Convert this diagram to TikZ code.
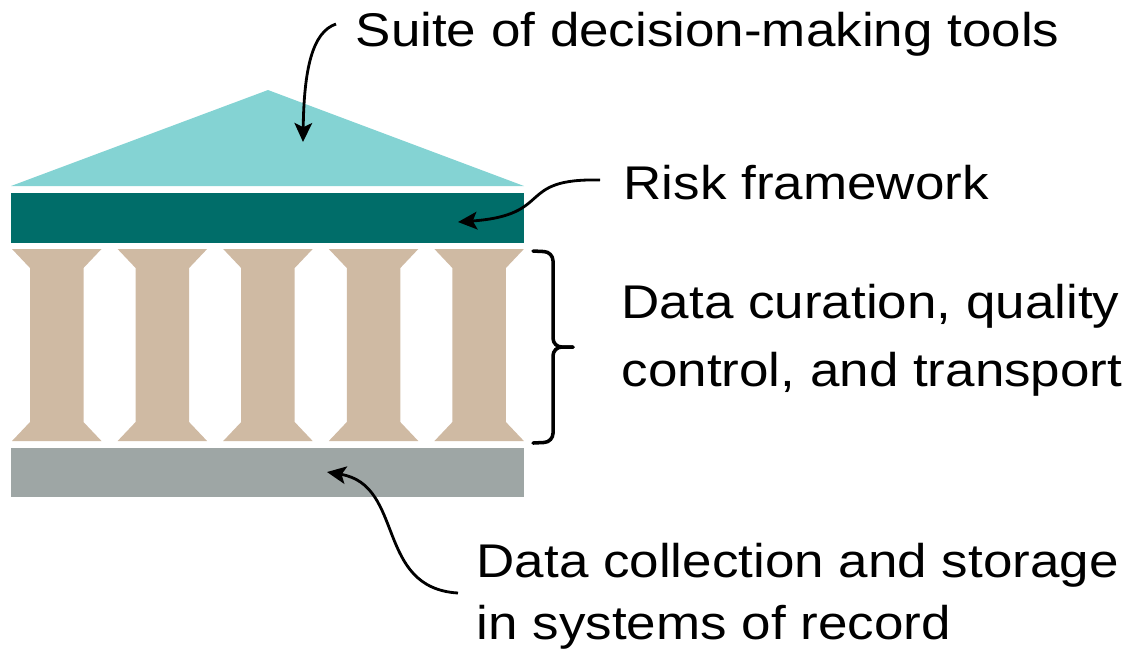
\documentclass[tikz,border=0pt]{standalone}
\usepackage{fontspec}
\setmainfont{Liberation Sans}[FakeStretch=1.12]
\usepackage{tikz}
\usetikzlibrary{arrows.meta}
\usetikzlibrary{positioning}

\definecolor{roofteal}{HTML}{84D3D3}
\definecolor{beamteal}{HTML}{006D69}
\definecolor{columntan}{HTML}{CFBAA3}
\definecolor{basegray}{HTML}{9EA6A5}

\newcommand{\txtsize}{\fontsize{13.45pt}{17.4pt}\selectfont}

\begin{document}
\begin{tikzpicture}[>={Stealth[length=5.4pt, width=5pt, inset=1.2pt]},
  x=0.01cm, y=-0.01cm,
  txt/.style={anchor=base west, inner sep=0pt, align=left, font=\txtsize},
  pointer/.style={->, line width=0.8pt},
  bracket/.style={line width=1pt, rounded corners=2.5pt, line cap=round}]
  \useasboundingbox (0,0) rectangle (1125,653);

  % roof, beam and base
  \fill[roofteal] (11,186) -- (268,90) -- (524,186) -- cycle;
  \fill[beamteal] (11,193) rectangle (524,243);
  \fill[basegray] (11,448) rectangle (524,497);

  % columns
  \def\pitch{105.6}
  \foreach \i in {0,...,4}{
    \pgfmathsetmacro{\xa}{12+\pitch*\i}
    \fill[columntan] (\xa,249) -- (\xa+89.5,249) -- (\xa+71.5,268) -- (\xa+71.5,422)
      -- (\xa+89.5,441) -- (\xa,441) -- (\xa+18,422) -- (\xa+18,268) -- cycle;
  }

  % brace next to the columns
  \draw[bracket] (533,251) -- (553,252) -- (553,347) -- (573,347);
  \draw[bracket] (573,347) -- (553,347) -- (553,442) -- (533,443);

  % multi-line nodes sit on the baseline of their last line
  \node[txt] (suite) at (355,46) {Suite of decision-making tools};
  \node[txt] (risk) at (623,199) {Risk framework};
  \node[txt] (curation) at (621,386) {Data curation, quality\\[1.9pt] control, and transport};
  \node[txt] (collection) at (476,639) {Data collection and storage\\ in systems of record};

  \coordinate (roofpt) at (303,142);
  \coordinate (beampt) at (458,222);
  \coordinate (basept) at (327,472);

  \draw[pointer] ([shift={(-19,-22)}]suite.base west) .. controls (312,32) and (304,70) .. (roofpt);
  \draw[pointer] ([shift={(-23,-19)}]risk.base west) .. controls (515,178) and (555,215) .. (beampt);
  \draw[pointer] ([shift={(-18,-46)}]collection.base west) .. controls (375,588) and (405,485) .. (basept);
\end{tikzpicture}
\end{document}
